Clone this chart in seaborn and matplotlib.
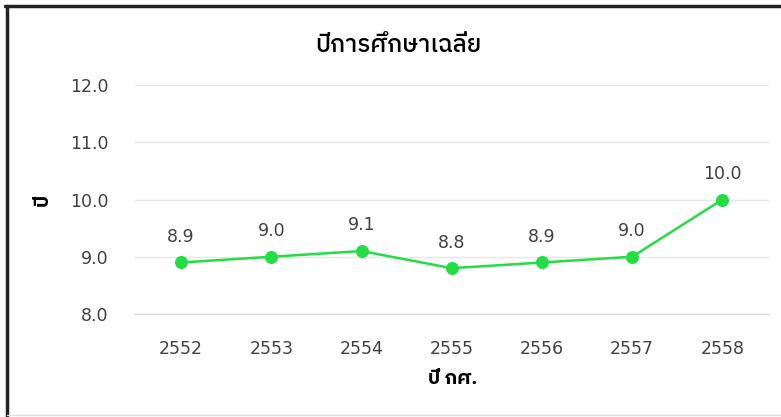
import matplotlib
matplotlib.use("Agg")
import matplotlib.pyplot as plt
import seaborn as sns
import pandas as pd
from matplotlib import font_manager
from matplotlib.ft2font import FT2Font
from matplotlib.lines import Line2D

# ---- data ----
years = ["2552", "2553", "2554", "2555", "2556", "2557", "2558"]
avg_years = [8.9, 9.0, 9.1, 8.8, 8.9, 9.0, 10.0]
y_ticks = [8.0, 9.0, 10.0, 11.0, 12.0]
title = "ปีการศึกษาเฉลี่ย"
x_label = "ปี กศ."
y_label = "ปี"

# ---- find a font with Thai glyphs ----
thai_candidates = []
for f in font_manager.fontManager.ttflist:
    try:
        ft = FT2Font(f.fname)
        cmap = ft.get_charmap()
        if 0x0E1B in cmap and 0x0E35 in cmap:
            thai_candidates.append(f.name)
    except Exception:
        pass
pref = [n for n in thai_candidates if "Thai" in n and "Looped" not in n]
thai_font = (pref or thai_candidates or ["DejaVu Sans"])[0]

sns.set_theme(style="white")
plt.rcParams["font.family"] = ["DejaVu Sans", thai_font]

df = pd.DataFrame({"year": years, "value": avg_years})

fig = plt.figure(figsize=(7.81, 4.17), dpi=100)
ax = fig.add_axes([0.173, 0.247, 0.812, 0.549])

green = "#22dd44"
sns.pointplot(data=df, x="year", y="value", color=green, markers="o",
              markersize=8, linewidth=1.8, ax=ax, errorbar=None)

ax.set_ylim(8.0, 12.0)
ax.set_xlim(-0.51, 6.52)
ax.set_yticks(y_ticks)
ax.set_yticklabels([f"{v:.1f}" for v in y_ticks])
ax.yaxis.grid(True, color="#e6e6e6", linewidth=1.0)
ax.xaxis.grid(False)
for s in ["top", "right", "left"]:
    ax.spines[s].set_visible(False)
ax.spines["bottom"].set_color("#d9d9d9")
ax.spines["bottom"].set_linewidth(1.0)
ax.tick_params(axis="both", length=0, labelsize=12.5, labelcolor="#404040")
ax.tick_params(axis="y", pad=19)
ax.tick_params(axis="x", pad=19)

for i, v in enumerate(avg_years):
    ax.annotate(f"{v:.1f}", (i, v), xytext=(0, 12), textcoords="offset points",
                ha="center", va="bottom", fontsize=12.5, color="#404040")

ax.set_xlabel(x_label, fontsize=14, fontweight="bold", color="#000000",
              family=[thai_font, "DejaVu Sans"], labelpad=8)
ax.set_ylabel(y_label, fontsize=14, fontweight="bold", color="#000000",
              family=[thai_font, "DejaVu Sans"], labelpad=13)
fig.text(0.51, 0.892, title, ha="center", va="center", fontsize=17.5,
         fontweight="medium", color="#000000", family=[thai_font, "DejaVu Sans"])

# outer frame
fig.add_artist(Line2D([0.007, 1.0], [0.985, 0.985], color="#222222", linewidth=2.5,
                      transform=fig.transFigure))
fig.add_artist(Line2D([0.009, 0.009], [0.0, 0.985], color="#222222", linewidth=2.5,
                      transform=fig.transFigure))
fig.add_artist(Line2D([0.009, 1.0], [0.004, 0.004], color="#e0e0e0", linewidth=1.0,
                      transform=fig.transFigure))

fig.savefig("out.png", dpi=100)
